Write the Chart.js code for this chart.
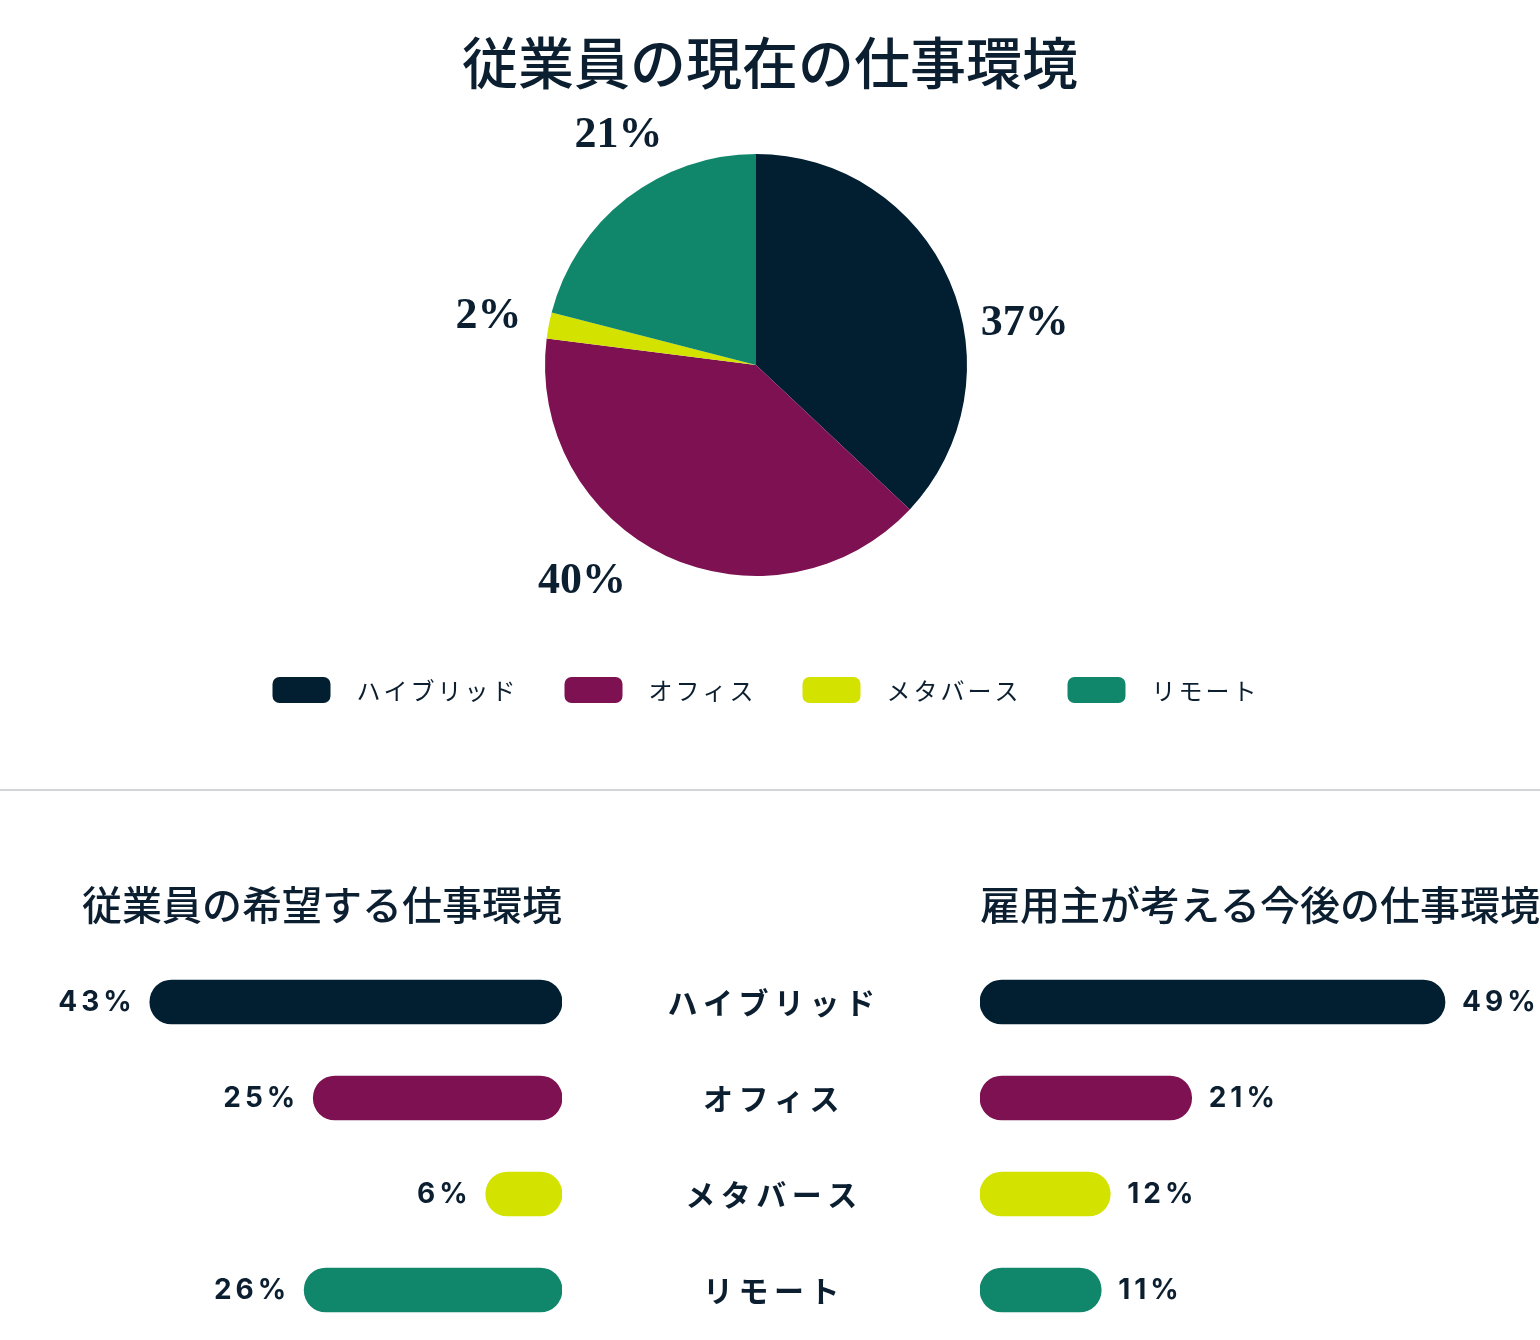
<!DOCTYPE html>
<html lang="ja">
<head>
<meta charset="utf-8">
<title>従業員の現在の仕事環境</title>
<script src="https://cdn.jsdelivr.net/npm/chart.js@4.4.1/dist/chart.umd.min.js"></script>
<style>
  html, body { margin: 0; padding: 0; background: #fff; }
  #page { position: relative; width: 1540px; height: 1340px; overflow: hidden; }
  canvas { position: absolute; }
  #pieChart { left: 0; top: 0; }
  .rule { position: absolute; left: 0; top: 789px; width: 1540px; height: 2px; background: #d3d6d9; }
  #wishChart { left: 0; top: 860px; }
  #employerChart { left: 562px; top: 860px; }
</style>
</head>
<body>
<div id="page">
  <canvas id="pieChart" width="1540" height="760"></canvas>
  <div class="rule"></div>
  <canvas id="wishChart" width="562" height="480"></canvas>
  <canvas id="employerChart" width="978" height="480"></canvas>
</div>
<script>
// data
const categories = ['ハイブリッド', 'オフィス', 'メタバース', 'リモート'];
const currentShare = [37, 40, 2, 21];   // 従業員の現在の仕事環境 (pie)
const employeeWish = [43, 25, 6, 26];   // 従業員の希望する仕事環境
const employerView = [49, 21, 12, 11];  // 雇用主が考える今後の仕事環境
const colors = ['#021f31', '#7e1151', '#d4e200', '#10866b'];
const titleMain = '従業員の現在の仕事環境';
const titleWish = '従業員の希望する仕事環境';
const titleEmployer = '雇用主が考える今後の仕事環境';

const ink = '#0b1f30';
const jpFont = '"Noto Sans CJK JP", "Noto Sans", sans-serif';
const numFont = 'Inter, "Noto Sans", sans-serif';
const serifFont = '"Liberation Serif", "DejaVu Serif", serif';
// round cap sticks out past the zero line by about one bar radius
const capOffset = 2.4;

Chart.defaults.font.family = jpFont;
Chart.defaults.color = ink;

// title, outside % labels and legend for the pie
const pieExtras = {
    id: 'pieExtras',
    afterDraw(chart) {
        const ctx = chart.ctx;
        const w = chart.width;
        ctx.save();
        ctx.fillStyle = ink;
        ctx.textAlign = 'center';
        ctx.textBaseline = 'middle';
        ctx.font = '500 56px ' + jpFont;
        ctx.fillText(titleMain, w / 2, 63);

        const meta = chart.getDatasetMeta(0);
        ctx.font = 'bold 44px ' + serifFont;
        meta.data.forEach((arc, i) => {
            const a = arc.startAngle + (arc.endAngle - arc.startAngle) * 0.6;
            const r = arc.outerRadius + 62;
            ctx.fillText(currentShare[i] + '%', arc.x + Math.cos(a) * r, arc.y + Math.sin(a) * r + 6);
        });

        // legend
        ctx.font = '24px ' + jpFont;
        ctx.letterSpacing = '3px';
        ctx.textAlign = 'left';
        const box = 58, gapText = 26, gapItem = 46;
        const widths = categories.map(c => ctx.measureText(c).width);
        const total = widths.reduce((a, b) => a + b, 0) + categories.length * (box + gapText) + (categories.length - 1) * gapItem;
        let x = w / 2 - total / 2 - 4;
        const y = 690;
        categories.forEach((c, i) => {
            ctx.fillStyle = colors[i];
            ctx.beginPath();
            ctx.roundRect(x, y - 13, box, 26, 7);
            ctx.fill();
            ctx.fillStyle = ink;
            ctx.fillText(c, x + box + gapText, y + 1);
            x += box + gapText + widths[i] + gapItem;
        });
        ctx.restore();
    }
};

new Chart(document.getElementById('pieChart'), {
    type: 'pie',
    data: {
        labels: categories,
        datasets: [{ data: currentShare, backgroundColor: colors, borderWidth: 0 }]
    },
    options: {
        responsive: false,
        animation: false,
        layout: { padding: { top: 154, right: 28, bottom: 184 } },
        plugins: { legend: { display: false }, tooltip: { enabled: false } }
    },
    plugins: [pieExtras]
});

// value labels (and centre category labels on the right chart)
function barExtras(side) {
    return {
        id: 'barExtras',
        afterDatasetsDraw(chart) {
            const ctx = chart.ctx;
            const ds = chart.data.datasets[0];
            const meta = chart.getDatasetMeta(0);
            ctx.save();
            ctx.fillStyle = ink;
            ctx.textBaseline = 'middle';
            ctx.font = 'bold 28px ' + numFont;
            ctx.letterSpacing = '4px';
            meta.data.forEach((bar, i) => {
                const txt = ds.data[i] + '%';
                if (side === 'left') {
                    ctx.textAlign = 'right';
                    ctx.fillText(txt, bar.x - 14, bar.y + 1);
                } else {
                    ctx.textAlign = 'left';
                    ctx.fillText(txt, bar.x + 17, bar.y + 1);
                }
            });
            if (side === 'right') {
                const ys = chart.scales.y;
                const cx = (ys.left + ys.right) / 2;
                ctx.font = 'bold 30px ' + jpFont;
                ctx.letterSpacing = '5.5px';
                ctx.textAlign = 'center';
                chart.data.labels.forEach((lab, i) => {
                    ctx.fillText(lab, cx + 3, ys.getPixelForValue(i) + 1);
                });
            }
            ctx.restore();
        }
    };
}

function barChart(id, values, title, side) {
    const left = side === 'left';
    return new Chart(document.getElementById(id), {
        type: 'bar',
        data: {
            labels: categories,
            datasets: [{
                data: values,
                base: -capOffset,
                backgroundColor: colors,
                borderRadius: 22,
                borderSkipped: false,
                barThickness: 44
            }]
        },
        options: {
            indexAxis: 'y',
            responsive: false,
            animation: false,
            layout: { padding: { bottom: 2 } },
            plugins: {
                legend: { display: false },
                tooltip: { enabled: false },
                title: {
                    display: true,
                    text: title,
                    align: left ? 'end' : 'start',
                    fullSize: left,
                    color: ink,
                    font: { size: 40, weight: '500' },
                    padding: { top: 21, bottom: 25 }
                }
            },
            scales: {
                x: { display: false, reverse: left, min: -capOffset, max: 59.5 },
                y: left ? { display: false } : {
                    display: true,
                    ticks: { display: false },
                    grid: { display: false },
                    border: { display: false },
                    afterFit(s) { s.width = 418; }
                }
            }
        },
        plugins: [barExtras(side)]
    });
}

barChart('wishChart', employeeWish, titleWish, 'left');
barChart('employerChart', employerView, titleEmployer, 'right');
</script>
</body>
</html>
